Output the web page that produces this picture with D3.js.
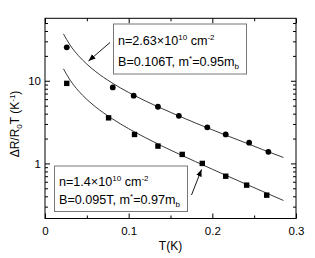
<!DOCTYPE html>
<html><head><meta charset="utf-8">
<script src="https://cdn.jsdelivr.net/npm/d3@7"></script>
<style>body{margin:0;background:#fff}svg{display:block}text{font-family:"Liberation Sans",Arial,sans-serif;fill:#000}</style>
</head><body><svg id="c" width="315" height="258"></svg>
<script>
// Data
const circleT = [0.026, 0.081, 0.106, 0.135, 0.160, 0.194, 0.216, 0.244, 0.267];
const circleV = [25.4, 8.3, 6.6, 4.85, 3.77, 2.73, 2.24, 1.78, 1.38];
const squareT = [0.026, 0.076, 0.107, 0.135, 0.164, 0.188, 0.216, 0.241, 0.265];
const squareV = [9.3, 3.56, 2.24, 1.62, 1.285, 1.0, 0.70, 0.546, 0.413];
const fitT = [0.022, 0.03, 0.04, 0.05, 0.06, 0.08, 0.10, 0.12, 0.14, 0.16, 0.18, 0.20, 0.22, 0.24, 0.26, 0.285];
const fitUpper = [37.0, 27.0, 20.1, 15.9, 13.05, 9.44, 7.22, 5.70, 4.60, 3.75, 3.08, 2.55, 2.12, 1.77, 1.47, 1.18];
const fitLower = [13.98, 10.18, 7.55, 5.95, 4.87, 3.49, 2.63, 2.05, 1.62, 1.30, 1.05, 0.85, 0.69, 0.563, 0.459, 0.356];
const xMajor = [0, 0.1, 0.2, 0.3];
const xMinor = [0.05, 0.15, 0.25];
const yMajor = [1, 10];
const yMinor = [0.3, 0.4, 0.5, 0.6, 0.7, 0.8, 0.9, 2, 3, 4, 5, 6, 7, 8, 9, 20, 30, 40, 50];

const svg = d3.select("#c");
const L = 45, R = 296, T = 18.3, B = 218.5;
const x = d3.scaleLinear().domain([0, 0.3]).range([L, R]);
const y = d3.scaleLog().domain([0.2155, 57]).range([B, T]);

function ax(gen, tr, vals, size, labels) {
  const g = svg.append("g").attr("transform", tr)
    .call(gen.tickValues(vals).tickSize(size).tickPadding(labels ? 4 : 0)
      .tickFormat(labels ? (d => labels(d)) : () => ""));
  g.select(".domain").remove();
  g.selectAll("line").attr("stroke", "#000").attr("stroke-width", 1);
  g.selectAll("text").attr("font-size", 11.5).attr("font-family", '"Liberation Sans",Arial,sans-serif');
  return g;
}
// bottom
const gb = ax(d3.axisBottom(x), `translate(0,${B})`, xMajor, -5, d => d === 0 ? "0" : d3.format(".1f")(d));
gb.selectAll("text").attr("dy", "0").attr("y", 16);
ax(d3.axisBottom(x), `translate(0,${B})`, xMinor, -3, null);
// top
ax(d3.axisTop(x), `translate(0,${T})`, xMajor, -5, null);
ax(d3.axisTop(x), `translate(0,${T})`, xMinor, -3, null);
// left
const gl = ax(d3.axisLeft(y), `translate(${L},0)`, yMajor, -5, d => String(d));
gl.selectAll("text").attr("x", -4);
ax(d3.axisLeft(y), `translate(${L},0)`, yMinor, -3, null);
// right
ax(d3.axisRight(y), `translate(${R},0)`, yMajor, -5, null);
ax(d3.axisRight(y), `translate(${R},0)`, yMinor, -3, null);

// frame
svg.append("rect").attr("x", L).attr("y", T).attr("width", R - L).attr("height", B - T)
  .attr("fill", "none").attr("stroke", "#000").attr("stroke-width", 1);

// fit curves
const line = d3.line().x(d => x(d[0])).y(d => y(d[1])).curve(d3.curveMonotoneX);
[fitUpper, fitLower].forEach(vals => {
  svg.append("path").datum(fitT.map((t, i) => [t, vals[i]]))
    .attr("d", line).attr("fill", "none").attr("stroke", "#222").attr("stroke-width", 0.9);
});

// markers
svg.append("g").selectAll("circle").data(circleT).join("circle")
  .attr("cx", (d) => x(d)).attr("cy", (d, i) => y(circleV[i])).attr("r", 2.9).attr("fill", "#000");
const s = 5.4;
svg.append("g").selectAll("rect").data(squareT).join("rect")
  .attr("x", d => x(d) - s / 2).attr("y", (d, i) => y(squareV[i]) - s / 2)
  .attr("width", s).attr("height", s).attr("fill", "#000");

// legend boxes
function box(x0, y0, w, h) {
  svg.append("rect").attr("x", x0).attr("y", y0).attr("width", w).attr("height", h)
    .attr("fill", "#fff").attr("stroke", "#777").attr("stroke-width", 1);
}
function richLine(x0, yb, parts) {
  const t = svg.append("text").attr("x", x0).attr("y", yb).attr("font-size", 12.6);
  parts.forEach(p => {
    const sp = t.append("tspan").text(p[0]);
    if (p[1] === "sup") sp.attr("font-size", 8).attr("dy", -5);
    else if (p[1] === "sub") sp.attr("font-size", 8).attr("dy", 3);
    else if (p[1] === "supEnd") sp.attr("dy", 5);
    else if (p[1] === "subEnd") sp.attr("dy", -3);
  });
}
box(113.5, 24, 133, 50);
richLine(118, 45, [["n=2.63×10"], ["10", "sup"], [" cm", "supEnd"], ["-2", "sup"]]);
richLine(118, 66, [["B=0.106T, m"], ["*", "sup"], ["=0.95m", "supEnd"], ["b", "sub"]]);
box(54.5, 166, 133, 45.5);
richLine(59, 186, [["n=1.4×10"], ["10", "sup"], [" cm", "supEnd"], ["-2", "sup"]]);
richLine(59, 204, [["B=0.095T, m"], ["*", "sup"], ["=0.97m", "supEnd"], ["b", "sub"]]);

// arrows
const defs = svg.append("defs");
defs.append("marker").attr("id", "ah").attr("viewBox", "0 0 10 10").attr("refX", 10).attr("refY", 5)
  .attr("markerWidth", 7).attr("markerHeight", 7).attr("markerUnits", "userSpaceOnUse").attr("orient", "auto")
  .append("path").attr("d", "M0,1 L10,5 L0,9 Z").attr("fill", "#000");
svg.append("line").attr("x1", 110).attr("y1", 42.5).attr("x2", 88.5).attr("y2", 61)
  .attr("stroke", "#000").attr("stroke-width", 0.9).attr("marker-end", "url(#ah)");
svg.append("line").attr("x1", 191.5).attr("y1", 195).attr("x2", 201.5).attr("y2", 169.5)
  .attr("stroke", "#000").attr("stroke-width", 0.9).attr("marker-end", "url(#ah)");

// axis titles
svg.append("text").attr("x", (L + R) / 2).attr("y", 250).attr("text-anchor", "middle")
  .attr("font-size", 12).text("T(K)");
const yl = svg.append("text").attr("transform", "translate(19,124) rotate(-90)")
  .attr("text-anchor", "middle").attr("font-size", 12);
yl.append("tspan").text("ΔR/R");
yl.append("tspan").text("0").attr("font-size", 8).attr("dy", 3);
yl.append("tspan").text("T (K").attr("dy", -3);
yl.append("tspan").text("-1").attr("font-size", 8).attr("dy", -4.5);
yl.append("tspan").text(")").attr("dy", 4.5);
</script></body></html>
